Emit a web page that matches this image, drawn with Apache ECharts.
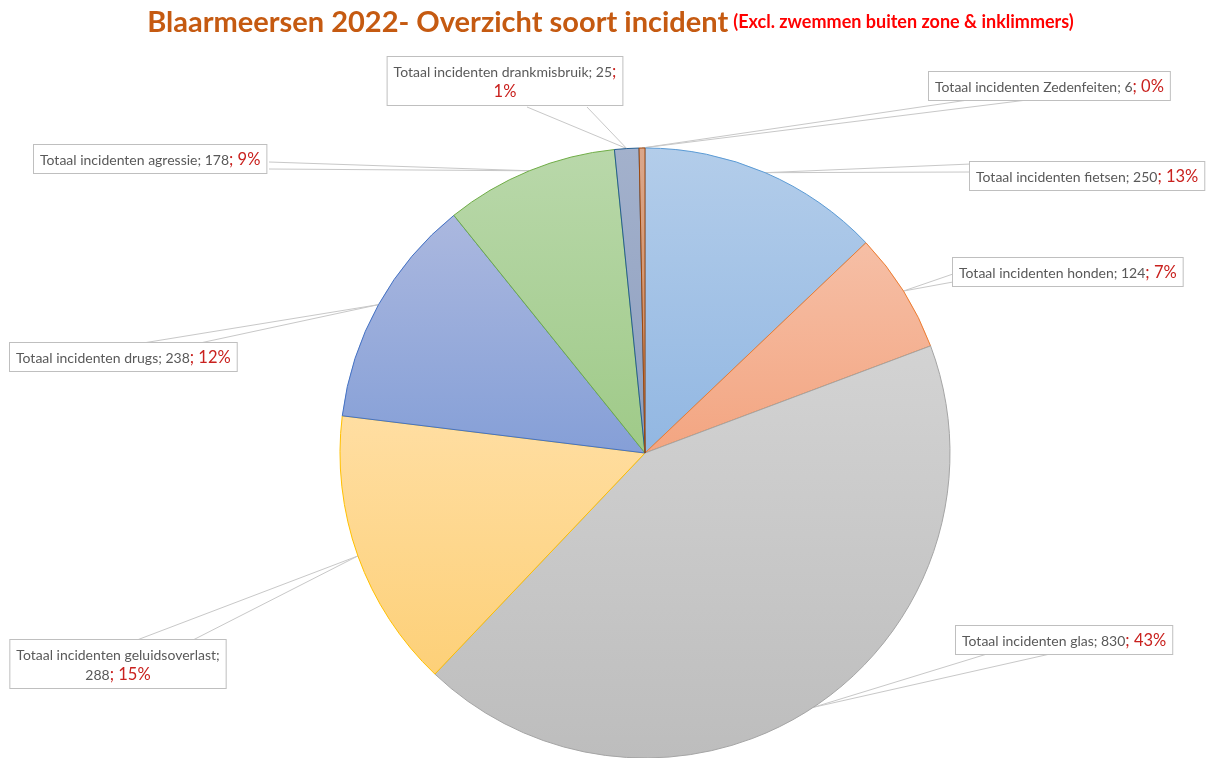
<!DOCTYPE html>
<html>
<head>
<meta charset="utf-8">
<script src="https://cdn.jsdelivr.net/npm/echarts@6/dist/echarts.min.js"></script>
<style>
  html, body { margin: 0; padding: 0; background: #fff; }
  #chart { width: 1221px; height: 758px; }
</style>
</head>
<body>
<div id="chart"></div>
<script>
// soort incident, in volgorde met de klok mee vanaf 12 uur
const categories = [
  'Totaal incidenten fietsen',
  'Totaal incidenten honden',
  'Totaal incidenten glas',
  'Totaal incidenten geluidsoverlast',
  'Totaal incidenten drugs',
  'Totaal incidenten agressie',
  'Totaal incidenten drankmisbruik',
  'Totaal incidenten Zedenfeiten'
]
const counts = [250, 124, 830, 288, 238, 178, 25, 6]

// kleuren (boven, onder, rand)
const sliceColors = [
  ['#b3cdea', '#92b7e2', '#5b9bd5'],
  ['#f6bfa6', '#f3a581', '#ed7d31'],
  ['#d3d3d3', '#bdbdbd', '#a5a5a5'],
  ['#ffdea2', '#fdd078', '#ffc000'],
  ['#abb8df', '#859fd7', '#4472c4'],
  ['#b9d8aa', '#9fca88', '#70ad47'],
  ['#a3b1cc', '#8e9fbf', '#255e91'],
  ['#dba78b', '#c98559', '#9e480e']
]

// labelkaders: positie, uitlijning, regelbreuk, en de twee punten waar de aanwijslijn het kader raakt
const labelBoxes = [
  { x: 970, y: 162, align: 'left', line: [[971, 164], [971, 172]] },
  { x: 953, y: 258, align: 'left', line: [[953, 274], [953, 282]] },
  { x: 956, y: 626, align: 'left', line: [[987, 654], [1050, 654]] },
  { x: 118, y: 640, align: 'center', wrap: true, line: [[137, 640], [193, 640]] },
  { x: 10, y: 343, align: 'left', line: [[143, 343], [200, 343]] },
  { x: 34, y: 145, align: 'left', line: [[269, 162], [269, 169]] },
  { x: 505, y: 57, align: 'center', wrapPct: true, line: [[527, 107], [587, 107]] },
  { x: 929, y: 72, align: 'left', line: [[968, 100], [1027, 100]] }
]

const chart = echarts.init(document.getElementById('chart'))

const seriesData = categories.map((name, i) => ({
  name: name,
  value: counts[i],
  itemStyle: {
    color: {
      type: 'linear', x: 0, y: 0, x2: 0, y2: 1,
      colorStops: [
        { offset: 0, color: sliceColors[i][0] },
        { offset: 1, color: sliceColors[i][1] }
      ]
    },
    borderColor: sliceColors[i][2],
    borderWidth: 1
  }
}))

const option = {
  backgroundColor: '#fff',
  animation: false,
  title: {
    left: 'center',
    top: 3,
    text: '{a|Blaarmeersen 2022- Overzicht soort incident} {b|(Excl. zwemmen buiten zone & inklimmers)}',
    textStyle: {
      rich: {
        a: { fontFamily: 'Lato', fontWeight: 'bold', fontSize: 29, color: '#c55a11' },
        b: { fontFamily: 'Lato', fontWeight: 'bold', fontSize: 18, color: '#ff0000' }
      }
    }
  },
  series: [{
    type: 'pie',
    center: [645, 453],
    radius: 305,
    startAngle: 90,
    clockwise: true,
    percentPrecision: 0,
    data: seriesData,
    label: {
      show: true,
      formatter: (p) => {
        const b = labelBoxes[p.dataIndex]
        if (b.wrap) return `{t|${p.name};}\n{t|${p.value}}{p|; ${p.percent}%}`
        if (b.wrapPct) return `{t|${p.name}; ${p.value}}{p|;}\n{p|${p.percent}%}`
        return `{t|${p.name}; ${p.value}}{p|; ${p.percent}%}`
      },
      backgroundColor: '#fff',
      borderColor: '#bfbfbf',
      borderWidth: 1,
      padding: [5, 6, 3, 6],
      rich: {
        t: { fontFamily: 'Lato', fontSize: 14, color: '#595959', lineHeight: 20 },
        p: { fontFamily: 'Lato', fontSize: 16.5, color: '#c9211e', lineHeight: 20 }
      }
    },
    labelLine: {
      show: true,
      lineStyle: { color: '#c8c8c8', width: 1 }
    },
    labelLayout: (params) => {
      const b = labelBoxes[params.dataIndex]
      const anchor = params.labelLinePoints[0]
      return {
        x: b.x,
        y: b.y,
        align: b.align,
        verticalAlign: 'top',
        labelLinePoints: [b.line[0], anchor, b.line[1]]
      }
    }
  }]
}

chart.setOption(option)
</script>
</body>
</html>
